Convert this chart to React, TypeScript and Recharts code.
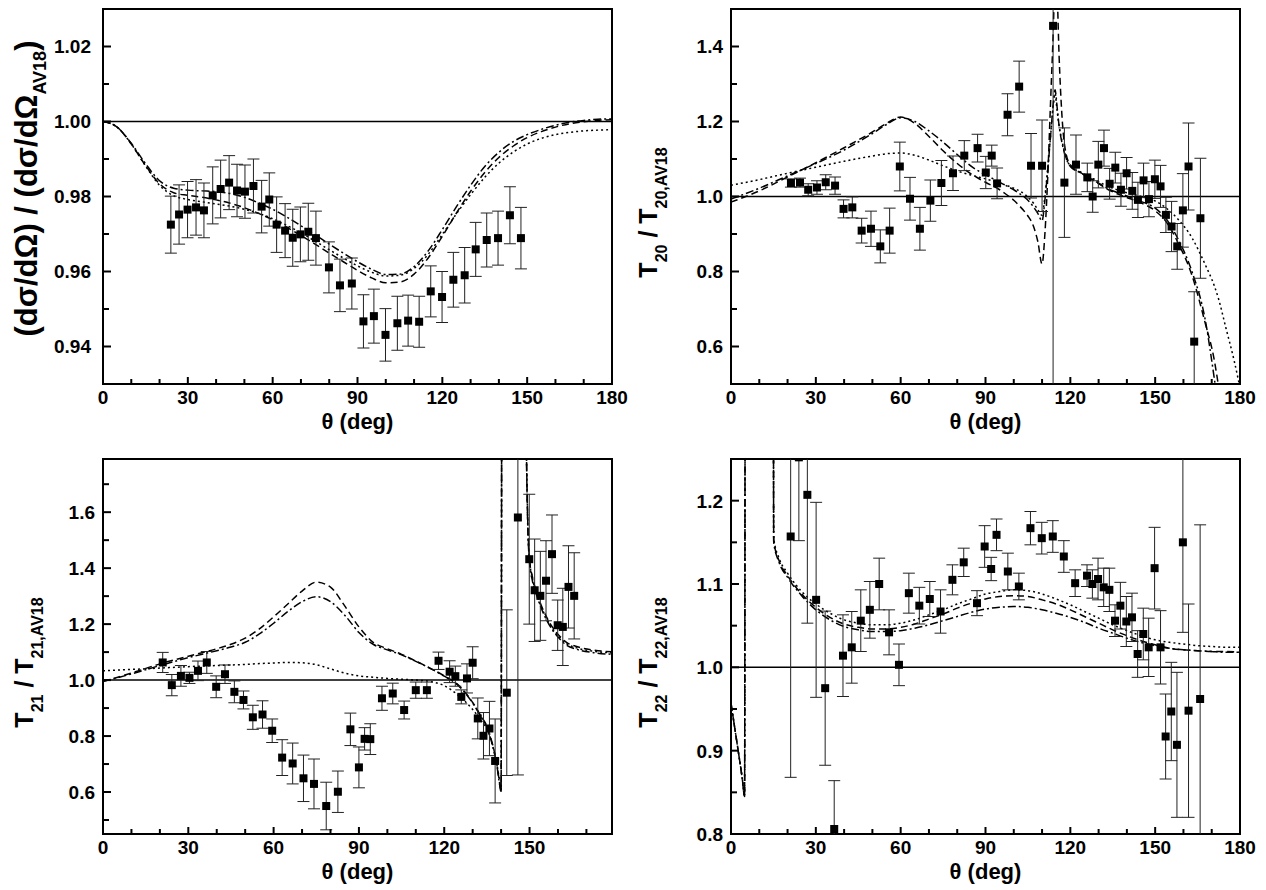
import React from "react";
import {
  ComposedChart, Line, Scatter, ErrorBar, XAxis, YAxis, ReferenceLine, ReferenceArea, Label,
} from "recharts";

const FONT = '"Liberation Sans", Arial, Helvetica, sans-serif';

// one chart box per panel, all four the same size
const CW = 630;
const CH = 445;
const MARGIN = { top: 9, right: 18, bottom: 0, left: 0 };
const Y_AXIS_W = 103;
const X_AXIS_H = 61;
const PLOT_W = CW - MARGIN.right - Y_AXIS_W;
const PLOT_H = CH - MARGIN.top - X_AXIS_H;

// ---- theta axis ----
const thetaTicks = [0, 10, 20, 30, 40, 50, 60, 70, 80, 90, 100, 110, 120, 130, 140, 150, 160, 170, 180];
const thetaTicksShort = [0, 10, 20, 30, 40, 50, 60, 70, 80, 90, 100, 110, 120, 130, 140, 150, 160, 170];
const thetaLabels = [0, 30, 60, 90, 120, 150, 180];

// ---- top left: cross section ratio ----
const tlYTicks = [0.93, 0.94, 0.95, 0.96, 0.97, 0.98, 0.99, 1.0, 1.01, 1.02, 1.03];
const tlYLabels = [0.94, 0.96, 0.98, 1.0, 1.02];
const tlTheta = [24.0, 26.9, 29.9, 32.9, 35.7, 38.8, 41.6, 44.6, 47.4, 50.2, 53.2, 56.1, 58.8, 61.4, 64.4, 67.1, 69.8, 72.6, 75.3, 79.9, 83.8, 88.0, 92.1, 95.8, 99.9, 104.1, 107.9, 111.8, 115.9, 119.9, 123.9, 127.9, 131.8, 135.7, 139.7, 143.9, 147.8];
const tlRatio = [0.9725, 0.9752, 0.9765, 0.9771, 0.9763, 0.9803, 0.9820, 0.9837, 0.9816, 0.9813, 0.9828, 0.9773, 0.9792, 0.9725, 0.9709, 0.9690, 0.9699, 0.9706, 0.9689, 0.9611, 0.9563, 0.9568, 0.9467, 0.9481, 0.9431, 0.9462, 0.9469, 0.9466, 0.9547, 0.9532, 0.9578, 0.9590, 0.9659, 0.9684, 0.9689, 0.9750, 0.9689];
const tlErr = [0.0076, 0.0079, 0.0075, 0.0074, 0.0073, 0.0076, 0.0077, 0.0072, 0.0070, 0.0071, 0.0072, 0.0070, 0.0071, 0.0074, 0.0072, 0.0076, 0.0073, 0.0076, 0.0072, 0.0068, 0.0070, 0.0068, 0.0071, 0.0072, 0.0070, 0.0072, 0.0068, 0.0068, 0.0068, 0.0068, 0.0073, 0.0074, 0.0072, 0.0072, 0.0072, 0.0076, 0.0082];
const tlCurveTheta = [0, 5, 10, 15, 20, 25, 30, 35, 40, 45, 50, 55, 60, 65, 70, 75, 80, 85, 90, 95, 100, 105, 110, 115, 120, 125, 130, 135, 140, 145, 150, 155, 160, 165, 170, 175, 180];
const tlDashDot = [1.0, 0.9985, 0.9942, 0.9888, 0.9842, 0.9822, 0.9817, 0.9815, 0.9813, 0.9808, 0.9798, 0.9783, 0.9766, 0.9745, 0.9722, 0.9698, 0.9673, 0.9649, 0.9626, 0.9606, 0.9592, 0.9593, 0.9613, 0.9655, 0.9712, 0.9773, 0.9830, 0.9880, 0.9918, 0.9946, 0.9965, 0.9979, 0.9990, 0.9998, 1.0003, 1.0006, 1.0007];
const tlDashed = [1.0, 0.9985, 0.9940, 0.9883, 0.9834, 0.9810, 0.9803, 0.9798, 0.9791, 0.9782, 0.9770, 0.9755, 0.9738, 0.9718, 0.9696, 0.9673, 0.9649, 0.9626, 0.9603, 0.9583, 0.9570, 0.9572, 0.9593, 0.9636, 0.9694, 0.9756, 0.9814, 0.9864, 0.9904, 0.9934, 0.9957, 0.9973, 0.9985, 0.9994, 0.9999, 1.0003, 1.0005];
const tlDotted = [1.0, 0.9985, 0.9940, 0.9882, 0.9830, 0.9802, 0.9792, 0.9786, 0.9780, 0.9774, 0.9766, 0.9755, 0.9741, 0.9723, 0.9703, 0.9681, 0.9658, 0.9636, 0.9615, 0.9598, 0.9588, 0.9590, 0.9608, 0.9646, 0.9699, 0.9754, 0.9805, 0.9851, 0.9889, 0.9918, 0.9940, 0.9955, 0.9965, 0.9971, 0.9975, 0.9977, 0.9978];

// ---- top right: T20 ----
const trYTicks = [0.5, 0.6, 0.7, 0.8, 0.9, 1.0, 1.1, 1.2, 1.3, 1.4, 1.5];
const trYLabels = [0.6, 0.8, 1.0, 1.2, 1.4];
const trTheta = [21.2, 24.4, 27.3, 30.4, 33.5, 36.8, 39.8, 42.9, 46.2, 49.5, 52.8, 56.1, 59.7, 63.3, 66.8, 70.5, 74.4, 78.5, 82.5, 87.2, 90.1, 92.2, 94.1, 97.8, 101.9, 106.1, 110.0, 113.9, 117.9, 122.0, 126.0, 127.9, 129.9, 131.9, 133.9, 135.9, 137.9, 139.9, 141.9, 143.9, 145.9, 147.8, 149.9, 151.9, 153.8, 155.8, 157.8, 159.8, 161.8, 163.8, 166.0];
const trRatio = [1.036, 1.037, 1.018, 1.024, 1.038, 1.029, 0.967, 0.971, 0.909, 0.914, 0.867, 0.909, 1.080, 0.994, 0.914, 0.989, 1.036, 1.062, 1.109, 1.129, 1.064, 1.109, 1.035, 1.218, 1.293, 1.082, 1.082, 1.455, 1.037, 1.085, 1.051, 1.000, 1.085, 1.129, 1.034, 1.077, 1.018, 1.062, 1.015, 0.991, 1.043, 0.993, 1.046, 1.027, 0.951, 0.920, 0.867, 0.963, 1.080, 0.613, 0.942];
const trErr = [0.011, 0.012, 0.016, 0.018, 0.020, 0.023, 0.024, 0.028, 0.033, 0.047, 0.044, 0.060, 0.065, 0.057, 0.057, 0.055, 0.060, 0.046, 0.040, 0.037, 0.043, 0.028, 0.041, 0.056, 0.068, 0.086, 0.122, 1.2, 0.146, 0.079, 0.038, 0.042, 0.062, 0.048, 0.041, 0.041, 0.044, 0.042, 0.049, 0.047, 0.046, 0.047, 0.051, 0.056, 0.047, 0.067, 0.061, 0.098, 0.116, 0.133, 0.160];
const trCurveTheta = [0, 10, 20, 30, 40, 50, 55, 60, 65, 70, 75, 80, 86, 90, 95, 98, 100, 102, 104, 105, 107, 108.5, 110, 111, 112, 113, 114, 114.6, 115.3, 116, 117, 118.6, 120, 124, 128, 133, 139, 145, 150, 154.6, 158, 163, 167.6, 171, 172.3, 175, 178, 180];
const trDashDot = [0.993, 1.022, 1.055, 1.088, 1.124, 1.168, 1.192, 1.210, 1.200, 1.175, 1.145, 1.112, 1.075, 1.058, 1.038, 1.026, 1.018, 1.008, 0.997, 0.990, 0.972, 0.955, 0.935, 0.99, 1.07, 1.16, 1.25, 1.285, 1.24, 1.19, 1.145, 1.10, 1.08, 1.062, 1.045, 1.022, 1.004, 0.987, 0.969, 0.933, 0.888, 0.800, 0.675, 0.510, 0.44, 0.30, 0.20, 0.10];
const trDashed = [0.985, 1.015, 1.052, 1.090, 1.130, 1.172, 1.195, 1.212, 1.195, 1.160, 1.122, 1.088, 1.055, 1.038, 1.018, 1.002, 0.990, 0.975, 0.958, 0.948, 0.920, 0.880, 0.820, 0.90, 1.05, 1.25, 1.45, 1.60, 1.55, 1.38, 1.22, 1.11, 1.085, 1.062, 1.044, 1.020, 1.000, 0.983, 0.962, 0.925, 0.878, 0.790, 0.665, 0.560, 0.500, 0.38, 0.25, 0.15];
const trDotted = [1.030, 1.045, 1.062, 1.078, 1.094, 1.108, 1.114, 1.116, 1.110, 1.097, 1.082, 1.068, 1.055, 1.047, 1.036, 1.028, 1.022, 1.015, 1.005, 0.998, 0.982, 0.965, 0.950, 1.00, 1.075, 1.16, 1.245, 1.275, 1.23, 1.19, 1.15, 1.10, 1.082, 1.064, 1.048, 1.028, 1.012, 1.000, 0.988, 0.965, 0.940, 0.890, 0.820, 0.760, 0.730, 0.650, 0.560, 0.490];

// ---- bottom left: T21 ----
const blYTicks = [0.5, 0.6, 0.7, 0.8, 0.9, 1.0, 1.1, 1.2, 1.3, 1.4, 1.5, 1.6, 1.7];
const blYLabels = [0.6, 0.8, 1.0, 1.2, 1.4, 1.6];
const blTheta = [21.0, 24.2, 27.4, 30.4, 33.4, 36.5, 39.8, 42.9, 46.2, 49.4, 52.7, 56.1, 59.5, 63.0, 66.7, 70.5, 74.2, 78.5, 82.6, 87.0, 90.0, 92.0, 94.0, 98.1, 101.9, 105.9, 110.0, 113.9, 118.0, 121.9, 123.9, 126.0, 128.0, 130.0, 131.8, 133.8, 135.9, 137.9, 142.0, 145.9, 149.9, 151.8, 153.8, 155.8, 157.9, 159.9, 161.7, 163.7, 165.7];
const blRatio = [1.063, 0.982, 1.015, 1.008, 1.033, 1.063, 0.976, 1.021, 0.958, 0.929, 0.867, 0.877, 0.819, 0.723, 0.702, 0.649, 0.629, 0.550, 0.601, 0.824, 0.688, 0.790, 0.789, 0.935, 0.952, 0.893, 0.964, 0.964, 1.069, 1.030, 1.014, 0.940, 1.006, 1.062, 0.863, 0.801, 0.827, 0.711, 0.955, 1.581, 1.432, 1.321, 1.301, 1.355, 1.450, 1.196, 1.190, 1.333, 1.301];
const blErr = [0.036, 0.038, 0.037, 0.020, 0.035, 0.039, 0.039, 0.033, 0.039, 0.032, 0.043, 0.049, 0.042, 0.064, 0.073, 0.083, 0.089, 0.085, 0.074, 0.058, 0.073, 0.040, 0.055, 0.043, 0.037, 0.032, 0.029, 0.029, 0.031, 0.039, 0.036, 0.025, 0.052, 0.057, 0.073, 0.083, 0.097, 0.150, 0.296, 0.920, 0.232, 0.183, 0.159, 0.143, 0.140, 0.090, 0.138, 0.147, 0.154];
const blCurveTheta = [0, 10, 20, 30, 40, 45, 50, 55, 60, 65, 70, 75, 80, 85, 90, 95, 100, 105, 110, 115, 120, 125, 130, 133, 135, 137, 138.5, 139.5, 140.0, 140.3, 144, 148.3, 148.8, 149.3, 150, 151, 152.6, 154, 156, 158, 160.8, 163, 166.6, 172.5, 179];
const blDashed = [0.995, 1.025, 1.058, 1.085, 1.112, 1.128, 1.150, 1.183, 1.226, 1.272, 1.318, 1.350, 1.332, 1.265, 1.190, 1.135, 1.112, 1.092, 1.068, 1.043, 1.015, 0.982, 0.920, 0.870, 0.835, 0.770, 0.700, 0.630, 0.600, 2.5, 4.0, 2.5, 1.9, 1.6, 1.43, 1.37, 1.31, 1.27, 1.225, 1.19, 1.155, 1.135, 1.12, 1.107, 1.101];
const blDashDot = [0.995, 1.022, 1.052, 1.080, 1.105, 1.118, 1.135, 1.165, 1.203, 1.245, 1.280, 1.298, 1.280, 1.232, 1.170, 1.128, 1.108, 1.090, 1.067, 1.042, 1.014, 0.980, 0.918, 0.868, 0.832, 0.765, 0.695, 0.625, 0.600, 2.5, 4.0, 2.5, 1.9, 1.58, 1.42, 1.355, 1.30, 1.26, 1.215, 1.18, 1.145, 1.125, 1.110, 1.098, 1.092];
const blDotted = [1.033, 1.038, 1.043, 1.048, 1.052, 1.054, 1.056, 1.059, 1.061, 1.063, 1.062, 1.055, 1.040, 1.025, 1.015, 1.010, 1.006, 1.003, 1.000, 0.995, 0.980, 0.945, 0.895, 0.855, 0.825, 0.768, 0.700, 0.640, 0.610, 2.5, 4.0, 2.5, 1.9, 1.6, 1.43, 1.365, 1.305, 1.265, 1.22, 1.185, 1.15, 1.13, 1.115, 1.103, 1.097];

// ---- bottom right: T22 ----
const brYTicks = [0.8, 0.85, 0.9, 0.95, 1.0, 1.05, 1.1, 1.15, 1.2, 1.25];
const brYLabels = [0.8, 0.9, 1.0, 1.1, 1.2];
const brTheta = [21.1, 24.0, 27.0, 30.1, 33.3, 36.5, 39.6, 42.7, 45.9, 49.1, 52.4, 55.9, 59.4, 62.9, 66.6, 70.3, 74.1, 78.3, 82.3, 87.0, 89.7, 92.0, 93.9, 97.9, 101.8, 105.9, 109.9, 113.8, 117.7, 121.7, 125.9, 127.8, 129.8, 131.8, 133.8, 135.8, 137.7, 139.8, 141.8, 143.8, 145.8, 147.7, 149.8, 151.9, 153.7, 155.7, 157.7, 159.8, 161.8, 165.9];
const brRatio = [1.157, 1.252, 1.207, 1.081, 0.975, 0.806, 1.014, 1.024, 1.056, 1.069, 1.100, 1.042, 1.003, 1.089, 1.074, 1.082, 1.067, 1.105, 1.126, 1.077, 1.145, 1.118, 1.159, 1.115, 1.097, 1.167, 1.155, 1.157, 1.133, 1.101, 1.110, 1.100, 1.106, 1.096, 1.093, 1.056, 1.074, 1.055, 1.060, 1.016, 1.040, 1.024, 1.119, 1.024, 0.917, 0.947, 0.907, 1.150, 0.948, 0.962];
const brErr = [0.289, 0.1, 0.154, 0.117, 0.0925, 0.058, 0.049, 0.043, 0.037, 0.034, 0.031, 0.027, 0.025, 0.024, 0.022, 0.021, 0.026, 0.018, 0.017, 0.015, 0.025, 0.014, 0.019, 0.022, 0.016, 0.020, 0.019, 0.019, 0.019, 0.016, 0.013, 0.017, 0.025, 0.023, 0.026, 0.019, 0.028, 0.030, 0.029, 0.028, 0.031, 0.035, 0.049, 0.044, 0.051, 0.059, 0.087, 0.108, 0.128, 0.209];
const brCurveTheta = [0, 2, 4, 4.8, 5.1, 10, 14.9, 15.1, 17, 20, 25, 30, 35, 40, 45, 50, 55, 60, 65, 70, 75, 80, 85, 90, 95, 100, 105, 110, 115, 120, 125, 130, 135, 140, 145, 150, 155, 160, 165, 170, 175, 180];
const brDashed = [0.957, 0.912, 0.866, 0.845, 1.6, 2.0, 1.6, 1.152, 1.128, 1.110, 1.088, 1.072, 1.060, 1.052, 1.048, 1.046, 1.046, 1.048, 1.052, 1.058, 1.064, 1.071, 1.077, 1.082, 1.085, 1.086, 1.085, 1.081, 1.076, 1.069, 1.061, 1.053, 1.045, 1.038, 1.032, 1.027, 1.023, 1.021, 1.020, 1.019, 1.019, 1.018];
const brDashDot = [0.957, 0.912, 0.866, 0.845, 1.6, 2.0, 1.6, 1.150, 1.126, 1.108, 1.086, 1.069, 1.057, 1.049, 1.045, 1.043, 1.043, 1.044, 1.047, 1.051, 1.056, 1.061, 1.066, 1.070, 1.072, 1.073, 1.072, 1.069, 1.065, 1.060, 1.054, 1.047, 1.041, 1.035, 1.030, 1.026, 1.023, 1.021, 1.020, 1.019, 1.018, 1.018];
const brDotted = [0.957, 0.912, 0.866, 0.845, 1.6, 2.0, 1.6, 1.155, 1.131, 1.113, 1.091, 1.076, 1.065, 1.057, 1.053, 1.051, 1.051, 1.053, 1.057, 1.063, 1.069, 1.076, 1.082, 1.088, 1.091, 1.093, 1.092, 1.088, 1.082, 1.075, 1.067, 1.059, 1.051, 1.044, 1.038, 1.033, 1.030, 1.028, 1.026, 1.025, 1.024, 1.024];

const near = (list: number[], v: number) => list.some((l) => Math.abs(l - v) < 1e-6);

// inward ticks, labels only on the major ones
const xTick = (labels: number[]) => (props: any) => {
  const { x, y, payload } = props;
  const major = near(labels, payload.value);
  return (
    <g>
      <line x1={x} x2={x} y1={y} y2={y - (major ? 7 : 5)} stroke="#000" strokeWidth={2} />
      {major && (
        <text x={x} y={y + 20} textAnchor="middle" fontFamily={FONT} fontWeight={700} fontSize={19} fill="#000">
          {payload.value}
        </text>
      )}
    </g>
  );
};

const yTick = (labels: number[], digits: number, gap: number) => (props: any) => {
  const { x, y, payload } = props;
  const major = near(labels, payload.value);
  return (
    <g>
      <line x1={x} x2={x + (major ? 8 : 6)} y1={y} y2={y} stroke="#000" strokeWidth={2} />
      {major && (
        <text x={x - gap} y={y} dy="0.36em" textAnchor="end" fontFamily={FONT} fontWeight={700} fontSize={19} fill="#000">
          {payload.value.toFixed(digits)}
        </text>
      )}
    </g>
  );
};

const xTitle = () => (
  <text x={Y_AXIS_W + PLOT_W / 2} y={MARGIN.top + PLOT_H + 45} textAnchor="middle"
    fontFamily={FONT} fontWeight={700} fontSize={22} fill="#000">
    θ (deg)
  </text>
);

const crossTitle = () => (
  <text transform={`translate(37,${MARGIN.top + PLOT_H / 2 - 8}) rotate(-90)`} textAnchor="middle"
    fontFamily={FONT} fontWeight={700} fontSize={31} fill="#000" style={{ whiteSpace: "pre" }}>
    <tspan>(dσ/dΩ) / (dσ/dΩ</tspan>
    <tspan fontSize={18} dy={9}>AV18</tspan>
    <tspan dy={-9}>)</tspan>
  </text>
);

const tensorTitle = (k: string, bx: number) => () => (
  <text transform={`translate(${bx},${MARGIN.top + PLOT_H / 2 + 16}) rotate(-90)`} textAnchor="middle"
    fontFamily={FONT} fontWeight={700} fontSize={25} fill="#000" style={{ whiteSpace: "pre" }}>
    <tspan>T</tspan>
    <tspan fontSize={16} dy={10}>{k}</tspan>
    <tspan dy={-10}>{" / T"}</tspan>
    <tspan fontSize={16} dy={10}>{`${k},AV18`}</tspan>
  </text>
);

const Square = (props: any) => {
  const { cx, cy } = props;
  if (cx == null || cy == null) return null;
  return <rect x={cx - 4} y={cy - 4} width={8} height={8} fill="#000" />;
};

interface PanelProps {
  left: number;
  top: number;
  xMax: number;
  xTicks: number[];
  yDomain: [number, number];
  yTicks: number[];
  yLabels: number[];
  digits: number;
  gap: number;
  theta: number[];
  ratio: number[];
  err: number[];
  curveTheta: number[];
  dashed: number[];
  dashDot: number[];
  dotted: number[];
  title: () => React.ReactElement;
}

function Panel(p: PanelProps) {
  const points = p.theta.map((x, i) => ({ x, y: p.ratio[i], e: p.err[i] }));
  const curve = (ys: number[]) => p.curveTheta.map((x, i) => ({ x, y: ys[i] }));
  const lineProps = {
    dataKey: "y", type: "monotone" as const, stroke: "#000", strokeWidth: 1.5,
    dot: false, activeDot: false, isAnimationActive: false,
  };
  return (
    <div style={{ position: "absolute", left: p.left, top: p.top }}>
      <ComposedChart width={CW} height={CH} margin={MARGIN}>
        <XAxis
          dataKey="x" type="number" domain={[0, p.xMax]} allowDataOverflow ticks={p.xTicks} interval={0}
          axisLine={false} tickLine={false} tickSize={0} tickMargin={0} height={X_AXIS_H}
          tick={xTick(thetaLabels)} label={<Label content={xTitle} />}
        />
        <YAxis
          type="number" domain={p.yDomain} allowDataOverflow ticks={p.yTicks} interval={0}
          axisLine={false} tickLine={false} tickSize={0} tickMargin={0} width={Y_AXIS_W}
          tick={yTick(p.yLabels, p.digits, p.gap)} label={<Label content={p.title} />}
        />
        <ReferenceLine y={1} stroke="#000" strokeWidth={1.5} />
        <Line {...lineProps} data={curve(p.dotted)} strokeDasharray="2 3" />
        <Line {...lineProps} data={curve(p.dashed)} strokeDasharray="7 4" />
        <Line {...lineProps} data={curve(p.dashDot)} strokeDasharray="8 3 2 3" />
        <Scatter data={points} dataKey="y" shape={Square} isAnimationActive={false}>
          <ErrorBar dataKey="e" direction="y" width={6} stroke="#222" strokeWidth={1} />
        </Scatter>
        <ReferenceArea
          x1={0} x2={p.xMax} y1={p.yDomain[0]} y2={p.yDomain[1]}
          fill="none" stroke="#000" strokeWidth={2} ifOverflow="visible"
        />
      </ComposedChart>
    </div>
  );
}

// every panel has the same plot rectangle in its own svg, so one clip serves all
const clipCss = ".recharts-errorBars, .recharts-scatter { clip-path: url(#plot-clip); }";

export default function App() {
  return (
    <div style={{ position: "absolute", left: 0, top: 0, width: 1266, height: 890, background: "#fff" }}>
      <style>{clipCss}</style>
      <svg width={0} height={0} style={{ position: "absolute" }}>
        <defs>
          <clipPath id="plot-clip" clipPathUnits="userSpaceOnUse">
            <rect x={Y_AXIS_W} y={MARGIN.top} width={PLOT_W} height={PLOT_H} />
          </clipPath>
        </defs>
      </svg>
      <Panel
        left={0} top={0} xMax={180} xTicks={thetaTicks}
        yDomain={[0.93, 1.03]} yTicks={tlYTicks} yLabels={tlYLabels} digits={2} gap={12}
        theta={tlTheta} ratio={tlRatio} err={tlErr}
        curveTheta={tlCurveTheta} dashed={tlDashed} dashDot={tlDashDot} dotted={tlDotted}
        title={crossTitle}
      />
      <Panel
        left={628} top={0} xMax={180} xTicks={thetaTicks}
        yDomain={[0.5, 1.5]} yTicks={trYTicks} yLabels={trYLabels} digits={1} gap={8}
        theta={trTheta} ratio={trRatio} err={trErr}
        curveTheta={trCurveTheta} dashed={trDashed} dashDot={trDashDot} dotted={trDotted}
        title={tensorTitle("20", 29)}
      />
      <Panel
        left={0} top={450} xMax={179} xTicks={thetaTicksShort}
        yDomain={[0.45, 1.79]} yTicks={blYTicks} yLabels={blYLabels} digits={1} gap={8}
        theta={blTheta} ratio={blRatio} err={blErr}
        curveTheta={blCurveTheta} dashed={blDashed} dashDot={blDashDot} dotted={blDotted}
        title={tensorTitle("21", 33)}
      />
      <Panel
        left={628} top={450} xMax={180} xTicks={thetaTicks}
        yDomain={[0.8, 1.25]} yTicks={brYTicks} yLabels={brYLabels} digits={1} gap={8}
        theta={brTheta} ratio={brRatio} err={brErr}
        curveTheta={brCurveTheta} dashed={brDashed} dashDot={brDashDot} dotted={brDotted}
        title={tensorTitle("22", 29)}
      />
    </div>
  );
}
